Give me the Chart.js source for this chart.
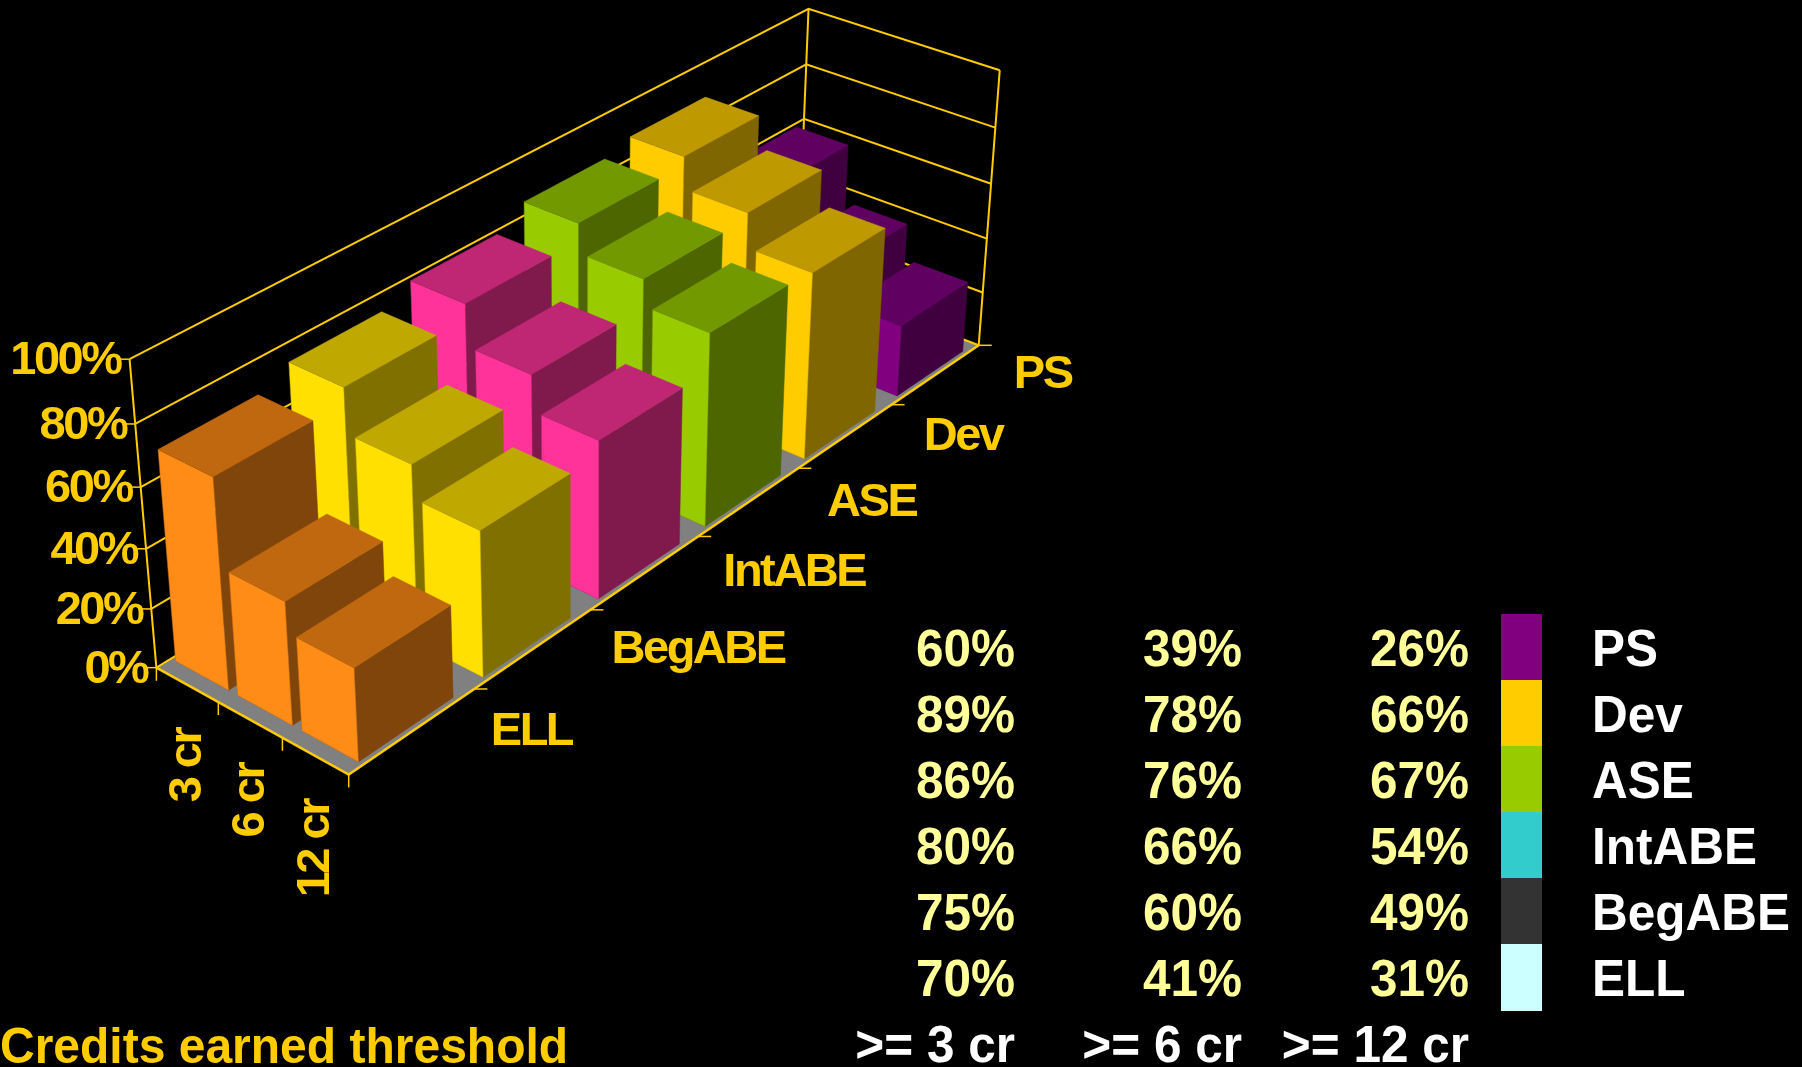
<!DOCTYPE html>
<html><head><meta charset="utf-8">
<style>html,body{margin:0;padding:0;background:#000;overflow:hidden}canvas{display:block}</style>
<script src="https://cdn.jsdelivr.net/npm/chart.js@4"></script>
</head><body><canvas id="c" width="1802" height="1067"></canvas>
<script>
// ---------- data ----------
const groups   = ['PS','Dev','ASE','IntABE','BegABE','ELL'];
const cr3      = [60,89,86,80,75,70];
const cr6      = [39,78,76,66,60,41];
const cr12     = [26,66,67,54,49,31];
const thresholds = ['3 cr','6 cr','12 cr'];
const tableHead  = ['>= 3 cr','>= 6 cr','>= 12 cr'];
const valueTicks = [0,20,40,60,80,100];
const barFront = ['#800080','#FFCC00','#99CC00','#FF3399','#FFE000','#FF8C17'];
const barTop   = ['#600060','#BF9900','#739900','#BF2673','#BFA800','#C06810'];
const barSide  = ['#400040','#806600','#4D6600','#801A4D','#807000','#80450B'];
const legendColors = ['#800080','#FFCC00','#99CC00','#33CCCC','#333333','#CCFFFF'];

// ---------- camera: projective fit of the box's visible landmarks ----------
const landmarks = [
 [0,0,0,156.9,666],[1,0,0,350,773],[1,1,0,979.5,345],[0,0,1,129.5,358.5],[0,1,1,808.3,9],[1,1,1,1000,70],
 [0,1,0,798,275],[1,1/6,0,474,690],[1,2/6,0,591,610],[1,3/6,0,697.6,536],[1,4/6,0,797,469],[1,5/6,0,890.6,404],
 [1/3,0,0,217.7,703.6],[2/3,0,0,282.7,739],[0,0,.8,135,423.6],[0,0,.6,140.7,486.5],[0,0,.4,146,549],[0,0,.2,151,610],
 [1,1,.8,995.7,127.7],[1,1,.6,991,184],[1,1,.4,986.7,238.3],[1,1,.2,983,292.7],[0,1,.8,806,65],[0,1,.6,804.3,119.3]
];
function fitCamera(pts){
  const n=11, A=Array.from({length:n},()=>new Array(n+1).fill(0));
  const add=(r,t)=>{for(let i=0;i<n;i++){for(let j=0;j<n;j++)A[i][j]+=r[i]*r[j];A[i][n]+=r[i]*t;}};
  for(const [u,v,w,x,y] of pts){
    add([u,v,w,1,0,0,0,0,-x*u,-x*v,-x*w],x);
    add([0,0,0,0,u,v,w,1,-y*u,-y*v,-y*w],y);
  }
  for(let c=0;c<n;c++){
    let p=c;for(let r=c+1;r<n;r++)if(Math.abs(A[r][c])>Math.abs(A[p][c]))p=r;
    [A[c],A[p]]=[A[p],A[c]];
    for(let r=0;r<n;r++){if(r===c)continue;const f=A[r][c]/A[c][c];for(let k=c;k<=n;k++)A[r][k]-=f*A[c][k];}
  }
  return A.map((row,i)=>row[n]/row[i]);
}
const P=fitCamera(landmarks);
function project(u,v,w){
  const d=P[8]*u+P[9]*v+P[10]*w+1;
  return {x:(P[0]*u+P[1]*v+P[2]*w+P[3])/d,y:(P[4]*u+P[5]*v+P[6]*w+P[7])/d};
}

// ---------- datasets ----------
const GOLD='#FFCC00';
const faces=[];
function line(points,width){faces.push({data:points,borderColor:GOLD,borderWidth:width||2,fill:false,showLine:true,pointRadius:0,tension:0});}
function poly(points,color,edge,edgeW){faces.push({data:[...points,points[0]],backgroundColor:color,borderColor:edge||color,borderWidth:edgeW===undefined?0.5:edgeW,fill:'shape',showLine:true,pointRadius:0,tension:0});}

poly([project(0,0,0),project(1,0,0),project(1,1,0),project(0,1,0)],'#808080','#808080');
valueTicks.forEach(t=>{const w=t/100;
  line([project(0,0,w),project(0,1,w),project(1,1,w)]);
  const a=project(0,0,w);line([a,{x:a.x-13,y:a.y}],1.5);
});
line([project(0,0,0),project(0,0,1)]);
line([project(0,1,0),project(0,1,1)]);
line([project(1,1,0),project(1,1,1)]);
line([project(0,0,0),project(1,0,0),project(1,1,0)],2.5);
[0,1,2,3].forEach(i=>{const a=project(i/3,0,0);line([a,{x:a.x,y:a.y+13}],1.5);});
[1,2,3,4,5,6].forEach(i=>{const a=project(1,i/6,0);line([a,{x:a.x+13,y:a.y}],1.5);});

const GU=0.0725, GV0=0.1125, GV1=0.135;
const values=[cr3,cr6,cr12];
groups.forEach((g,row)=>{
  const j=groups.length-1-row;           // ELL at the front, PS at the back
  const v0=(j+GV0)/6, v1=(j+1-GV1)/6;
  values.forEach((vals,i)=>{
    const u0=(i+GU)/3, u1=(i+1-GU)/3, w=vals[row]/100;
    poly([project(u1,v0,0),project(u1,v1,0),project(u1,v1,w),project(u1,v0,w)],barSide[row],barSide[row]);
    poly([project(u0,v0,0),project(u1,v0,0),project(u1,v0,w),project(u0,v0,w)],barFront[row],barTop[row]);
    poly([project(u0,v0,w),project(u1,v0,w),project(u1,v1,w),project(u0,v1,w)],barTop[row],barTop[row]);
  });
});
const datasets=faces.reverse();   // Chart.js paints the last dataset first

// ---------- text ----------
function tall(c,text,x,base,sy){c.save();c.translate(x,base);c.scale(1,sy);c.fillText(text,0,0);c.restore();}
const textPlugin={id:'labels',afterDraw(chart){
  const c=chart.ctx;c.save();
  c.fillStyle=GOLD;c.font='bold 47px "Liberation Sans"';c.letterSpacing='-2.5px';c.textBaseline='middle';
  valueTicks.forEach(t=>{const a=project(0,0,t/100);c.textAlign='right';c.fillText(t+'%',a.x-9,a.y+2);});
  groups.forEach((g,row)=>{const j=groups.length-1-row;
    const a=project(1,(j+.5)/6,0);c.textAlign='left';c.fillText(g,a.x+78,a.y+1);});
  thresholds.forEach((t,i)=>{const a=project((i+.5)/3,0,0);
    c.save();c.translate(a.x+1,a.y+44);c.rotate(-Math.PI/2);c.textAlign='right';c.fillText(t,0,0);c.restore();});
  c.letterSpacing='0px';c.textBaseline='alphabetic';
  c.font='bold 49.5px "Liberation Sans"';
  const colX=[1015,1242,1469], rowBase=[666,732,798,864,930,996];
  c.textAlign='right';c.fillStyle='#FFFF99';
  groups.forEach((g,r)=>values.forEach((vals,i)=>tall(c,vals[r]+'%',colX[i],rowBase[r],1.06)));
  c.fillStyle='#FFFFFF';
  tableHead.forEach((t,i)=>tall(c,t,colX[i],1062,1.06));
  const edges=[614,680,746,812,878,944,1011];
  groups.forEach((g,r)=>{
    c.fillStyle=legendColors[r];c.fillRect(1501,edges[r],41,edges[r+1]-edges[r]);
    c.fillStyle='#FFFFFF';c.textAlign='left';tall(c,g,1592,rowBase[r],1.06);
  });
  c.fillStyle=GOLD;c.textAlign='left';c.font='bold 48px "Liberation Sans"';
  tall(c,'Credits earned threshold',0,1063,1.06);
  c.restore();
}};

new Chart(document.getElementById('c'),{
  type:'scatter',
  data:{datasets},
  options:{
    responsive:false,animation:false,events:[],
    layout:{padding:0},
    plugins:{legend:{display:false},tooltip:{enabled:false},filler:{propagate:false}},
    scales:{
      x:{type:'linear',min:0,max:1802,display:false},
      y:{type:'linear',min:0,max:1067,reverse:true,display:false}
    }
  },
  plugins:[{id:'bg',beforeDraw(ch){ch.ctx.fillStyle='#000';ch.ctx.fillRect(0,0,ch.width,ch.height);}},textPlugin]
});
</script></body></html>
